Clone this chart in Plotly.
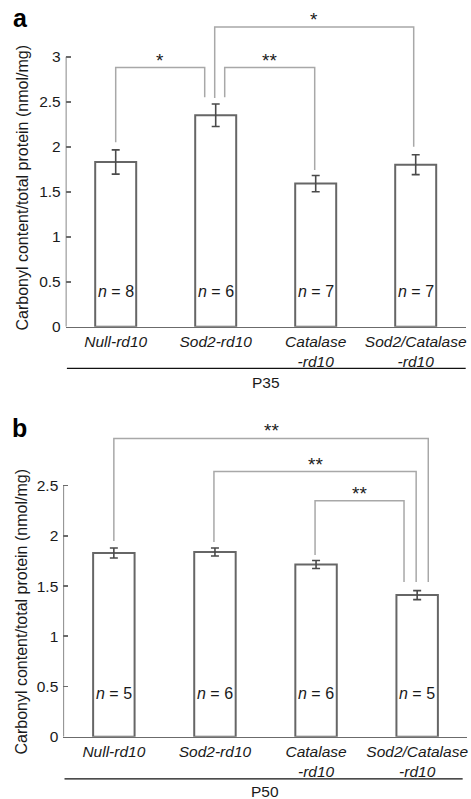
import plotly.graph_objects as go

# ---------------- data ----------------
categories = ["<i>Null-rd10</i>", "<i>Sod2-rd10</i>", "<i>Catalase<br>-rd10</i>", "<i>Sod2/Catalase<br>-rd10</i>"]
cat_pos = [0, 1, 2, 3]

p35_means = [1.83, 2.35, 1.59, 1.80]
p35_errors = [0.135, 0.125, 0.09, 0.11]
p35_n = [8, 6, 7, 7]

p50_means = [1.83, 1.84, 1.715, 1.41]
p50_errors = [0.05, 0.04, 0.04, 0.045]
p50_n = [5, 6, 6, 5]

yticks_a = [0, 0.5, 1, 1.5, 2, 2.5, 3]
yticks_b = [0, 0.5, 1, 1.5, 2, 2.5]
ytick_text_a = ["0", "0.5", "1", "1.5", "2", "2.5", "3"]
ytick_text_b = ["0", "0.5", "1", "1.5", "2", "2.5"]

# significance brackets: (x_left, x_right, y_left_bottom, y_right_bottom, y_top, label)
p35_brackets = [
    (0.0, 0.89, 2.05, 2.55, 2.88, "*"),
    (1.09, 1.99, 2.55, 1.74, 2.88, "**"),
    (0.99, 2.98, 2.54, 2.00, 3.33, "*"),
]
p50_brackets = [
    (0.0, 3.11, 1.95, 1.54, 2.97, "**"),
    (0.99, 2.99, 1.94, 1.54, 2.64, "**"),
    (1.99, 2.87, 1.81, 1.54, 2.35, "**"),
]

FONT = "Arial, Liberation Sans, Helvetica, sans-serif"
AXIS_COL = "#6b6b6b"
BAR_COL = "#666666"
ERR_COL = "#4a4a4a"
BRK_COL = "#a8a8a8"
TXT_COL = "#1a1a1a"

fig = go.Figure()


def add_panel(xa, ya, means, errs, ns, brackets, ymax_axis, n_y):
    xref = "x" if xa == "xaxis" else "x2"
    yref = "y" if ya == "yaxis" else "y2"
    fig.add_trace(go.Bar(
        x=cat_pos, y=means, width=0.41,
        marker=dict(color="white", line=dict(color=BAR_COL, width=2)),
        error_y=dict(type="data", array=errs, visible=True, color=ERR_COL, thickness=1.6, width=4),
        xaxis=xref, yaxis=yref, showlegend=False, hoverinfo="skip",
    ))
    # y axis line (0 .. top tick)
    fig.add_trace(go.Scatter(
        x=[-0.5, -0.5], y=[0, ymax_axis], mode="lines",
        line=dict(color=AXIS_COL, width=1.6), cliponaxis=False,
        xaxis=xref, yaxis=yref, showlegend=False, hoverinfo="skip",
    ))
    for (xl, xr, yl, yr, yt, lab) in brackets:
        fig.add_trace(go.Scatter(
            x=[xl, xl, xr, xr], y=[yl, yt, yt, yr], mode="lines",
            line=dict(color=BRK_COL, width=1.5), cliponaxis=False,
            xaxis=xref, yaxis=yref, showlegend=False, hoverinfo="skip",
        ))
        fig.add_annotation(x=(xl + xr) / 2, y=yt, xref=xref, yref=yref, text=lab,
                           showarrow=False, yanchor="bottom", yshift=-5,
                           font=dict(family=FONT, size=19, color=TXT_COL))
    for xv, nv in zip(cat_pos, ns):
        fig.add_annotation(x=xv, y=n_y, xref=xref, yref=yref,
                           text=f"<i>n</i> = {nv}", showarrow=False,
                           font=dict(family=FONT, size=16, color=TXT_COL))


add_panel("xaxis", "yaxis", p35_means, p35_errors, p35_n, p35_brackets, 3, 0.39)
add_panel("xaxis2", "yaxis2", p50_means, p50_errors, p50_n, p50_brackets, 2.5, 0.43)

xcommon = dict(showline=True, linecolor=AXIS_COL, linewidth=1.6, ticks="", automargin=False,
               tickvals=cat_pos, ticktext=categories, showgrid=False, zeroline=False,
               tickfont=dict(family=FONT, size=15.5, color=TXT_COL), fixedrange=True)
ycommon = dict(showline=False, ticks="inside", ticklen=5, tickwidth=1.6, tickcolor=AXIS_COL,
               showgrid=False, zeroline=False, ticklabelstandoff=4, automargin=False,
               tickfont=dict(family=FONT, size=15.5, color=TXT_COL), fixedrange=True)

fig.update_layout(
    width=471, height=799,
    margin=dict(l=0, r=0, t=0, b=0, pad=0),
    paper_bgcolor="white", plot_bgcolor="white",
    bargap=0,
    xaxis=dict(domain=[65.7 / 471, 465.7 / 471], range=[-0.5, 3.5], anchor="y", **xcommon),
    yaxis=dict(domain=[1 - 326.7 / 799, 1 - 10 / 799], range=[0, 3.519], anchor="x",
               tickvals=yticks_a, ticktext=ytick_text_a, **ycommon),
    xaxis2=dict(domain=[63.3 / 471, 466.7 / 471], range=[-0.5, 3.49], anchor="y2", **xcommon),
    yaxis2=dict(domain=[1 - 736.7 / 799, 1 - 420 / 799], range=[0, 3.154], anchor="x2",
                tickvals=yticks_b, ticktext=ytick_text_b, **ycommon),
)

# group lines and labels (P35 / P50)
for xd, x1, yline, ytext, lab in [("x domain", 1.0, 1 - 368.3 / 799, 1 - 382.7 / 799, "P35"),
                                   ("x2 domain", 0.99, 1 - 778.8 / 799, 1 - 791.7 / 799, "P50")]:
    fig.add_shape(type="line", xref=xd, yref="paper", x0=0.003, x1=x1, y0=yline, y1=yline,
                  line=dict(color="#111111", width=1.3))
    fig.add_annotation(xref=xd, yref="paper", x=0.5, y=ytext, text=lab, showarrow=False,
                       yanchor="middle", font=dict(family=FONT, size=15.5, color=TXT_COL))

# y-axis titles
ytitle = "Carbonyl content/total protein (nmol/mg)"
for xp, yp in [(21.5 / 471, 1 - 188 / 799), (20.5 / 471, 1 - 612 / 799)]:
    fig.add_annotation(xref="paper", yref="paper", x=xp, y=yp, text=ytitle, textangle=-90,
                       showarrow=False, xanchor="center", yanchor="middle",
                       font=dict(family=FONT, size=16, color=TXT_COL))

# panel letters
for lab, xp, yp in [("a", 20.5 / 471, 1 - 18 / 799), ("b", 19.5 / 471, 1 - 428 / 799)]:
    fig.add_annotation(xref="paper", yref="paper", x=xp, y=yp, text=f"<b>{lab}</b>",
                       showarrow=False, xanchor="center", yanchor="middle",
                       font=dict(family=FONT, size=25, color="#000000"))

# remove the default page margin synchronously (right after the plot call)
page_css = ("});"
            "document.documentElement.style.margin='0';"
            "document.body.style.margin='0';"
            "document.body.style.overflow='hidden';"
            "document.documentElement.style.overflow='hidden';"
            "(function(){")

fig.write_html("out.html", config={"displayModeBar": False, "staticPlot": True},
               post_script=page_css)
